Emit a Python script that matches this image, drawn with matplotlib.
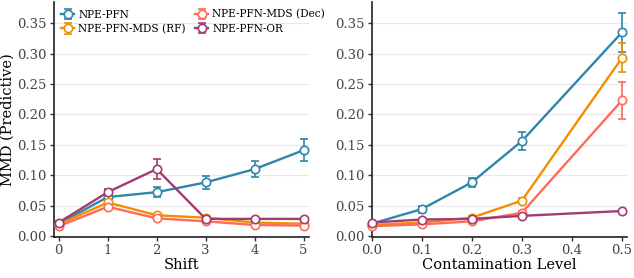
import numpy as np
import matplotlib.pyplot as plt

# --- data ---
shift = [0, 1, 2, 3, 4, 5]
contam = [0.0, 0.1, 0.2, 0.3, 0.5]

labels = ['NPE-PFN', 'NPE-PFN-MDS (RF)', 'NPE-PFN-MDS (Dec)', 'NPE-PFN-OR']
colors = ['#2E86AB', '#F18F01', '#FF6B55', '#A23B72']

# Shift panel
pfn_shift = [0.020, 0.064, 0.072, 0.088, 0.110, 0.141]
pfn_shift_err = [0.002, 0.004, 0.008, 0.010, 0.013, 0.018]
rf_shift = [0.019, 0.055, 0.034, 0.030, 0.022, 0.020]
rf_shift_err = [0.001, 0.003, 0.002, 0.002, 0.002, 0.002]
dec_shift = [0.016, 0.048, 0.029, 0.024, 0.018, 0.017]
dec_shift_err = [0.001, 0.003, 0.002, 0.002, 0.002, 0.002]
or_shift = [0.022, 0.072, 0.110, 0.028, 0.028, 0.028]
or_shift_err = [0.002, 0.006, 0.016, 0.002, 0.002, 0.002]

# Contamination panel
pfn_cont = [0.020, 0.044, 0.088, 0.156, 0.335]
pfn_cont_err = [0.002, 0.006, 0.008, 0.015, 0.032]
rf_cont = [0.018, 0.022, 0.030, 0.058, 0.293]
rf_cont_err = [0.001, 0.002, 0.003, 0.004, 0.024]
dec_cont = [0.016, 0.019, 0.024, 0.038, 0.223]
dec_cont_err = [0.001, 0.002, 0.002, 0.003, 0.031]
or_cont = [0.022, 0.027, 0.028, 0.033, 0.041]
or_cont_err = [0.001, 0.001, 0.001, 0.001, 0.002]

plt.rcParams['font.family'] = 'DejaVu Serif'
plt.rcParams['font.size'] = 10

fig, (ax1, ax2) = plt.subplots(1, 2, figsize=(6.34, 2.78), dpi=100)

shift_series = [(pfn_shift, pfn_shift_err), (rf_shift, rf_shift_err),
                (dec_shift, dec_shift_err), (or_shift, or_shift_err)]
cont_series = [(pfn_cont, pfn_cont_err), (rf_cont, rf_cont_err),
               (dec_cont, dec_cont_err), (or_cont, or_cont_err)]

for ax, xs, series in [(ax1, shift, shift_series), (ax2, contam, cont_series)]:
    for (y, e), lab, c in zip(series, labels, colors):
        ax.errorbar(xs, y, yerr=e, color=c, label=lab, linewidth=1.7,
                    marker='o', markersize=6, markerfacecolor='white',
                    markeredgecolor=c, markeredgewidth=1.2,
                    capsize=3, elinewidth=1.2, clip_on=False, zorder=3)
    ax.set_ylim(-0.002, 0.385)
    ax.set_yticks(np.arange(0, 0.36, 0.05))
    ax.yaxis.set_major_formatter(plt.FormatStrFormatter('%.2f'))
    ax.grid(True, axis='y', color='#e8e8e8', linewidth=0.8)
    ax.set_axisbelow(True)
    for s in ['top', 'right']:
        ax.spines[s].set_visible(False)
    for s in ['left', 'bottom']:
        ax.spines[s].set_linewidth(1.2)
        ax.spines[s].set_color('#222222')
    ax.tick_params(colors='#333333', labelcolor='#444444', length=3, width=1,
                   labelsize=9.5, pad=2)

ax1.set_xlim(-0.1, 5.12)
ax1.set_xticks(shift)
ax1.set_xlabel('Shift', labelpad=1, fontsize=10.5)
ax1.set_ylabel('MMD (Predictive)', fontsize=10.5)
ax1.yaxis.set_label_coords(-0.155, 0.5)

ax2.set_xlim(0, 0.51)
ax2.set_xticks([0.0, 0.1, 0.2, 0.3, 0.4, 0.5])
ax2.xaxis.set_major_formatter(plt.FormatStrFormatter('%.1f'))
ax2.set_xlabel('Contamination Level', labelpad=1, fontsize=10.5)

ax1.legend(loc='upper left', ncol=2, frameon=False, fontsize=7.6,
           handlelength=1.2, handletextpad=0.4, columnspacing=0.9,
           labelspacing=0.4, borderaxespad=0.3)

plt.subplots_adjust(left=0.085, right=0.989, bottom=0.147, top=0.993, wspace=0.243)
plt.savefig('out.png', dpi=100)
